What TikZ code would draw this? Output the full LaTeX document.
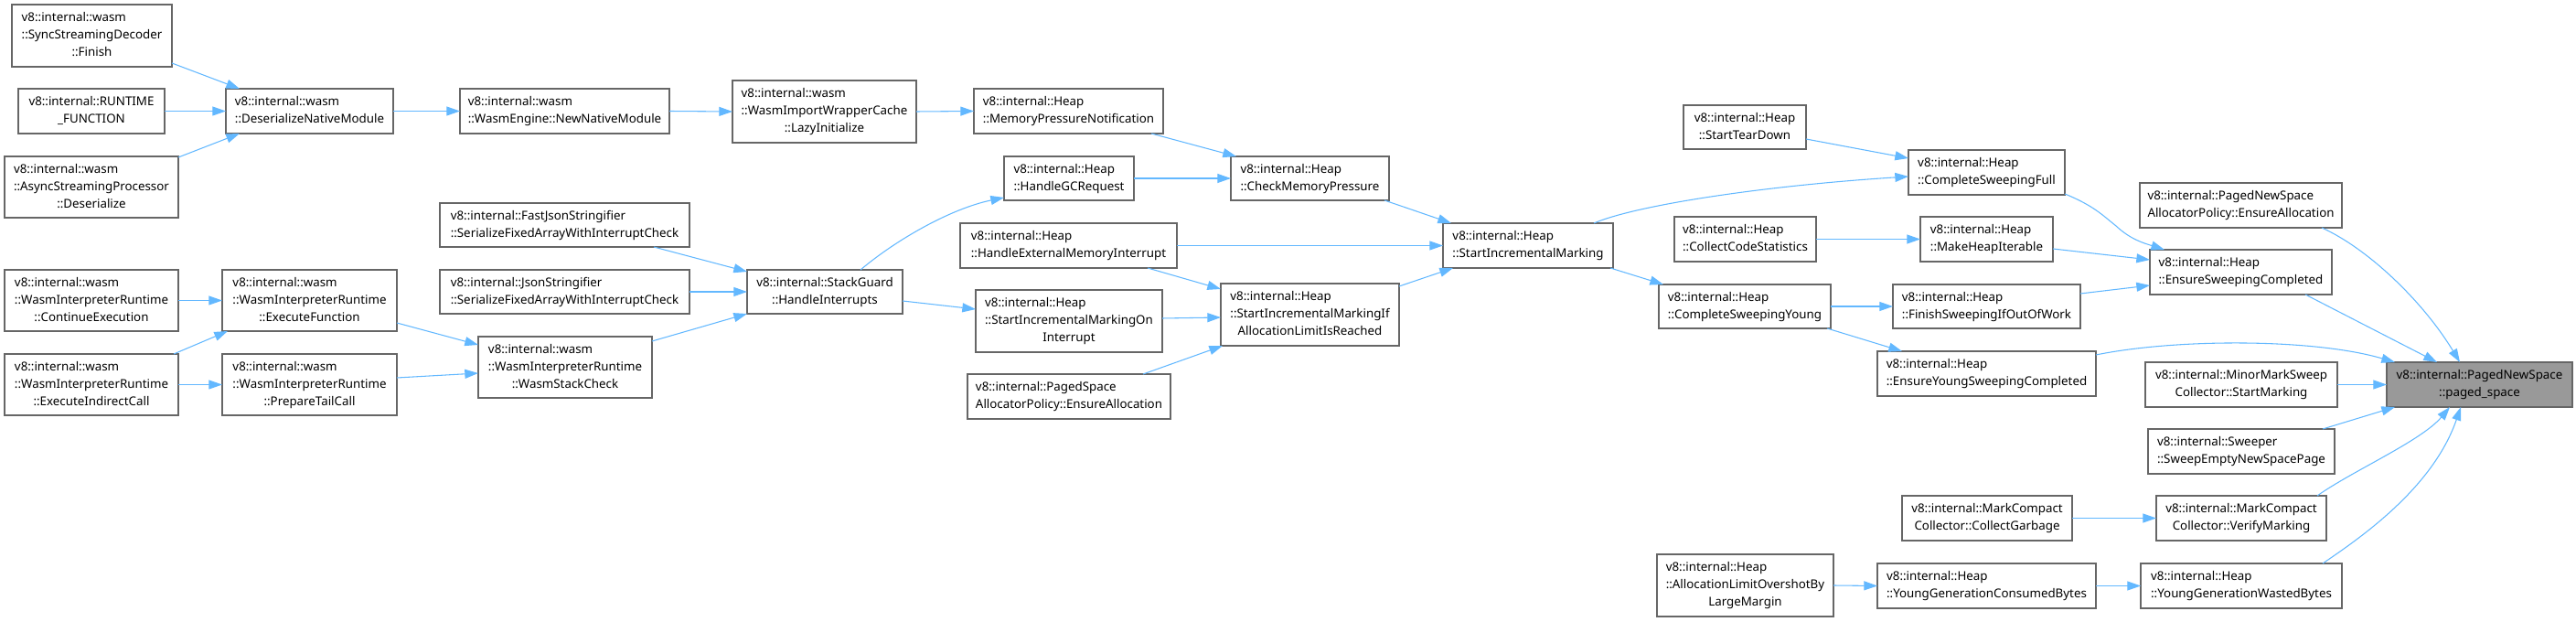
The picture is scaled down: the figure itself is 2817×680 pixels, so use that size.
\documentclass[tikz,border=0pt]{standalone}
\usepackage{fontspec}
\setmainfont{Noto Sans}
\usetikzlibrary{arrows.meta,calc}
\definecolor{edgec}{HTML}{63B8FF}
\definecolor{boxc}{HTML}{666666}
\definecolor{psfill}{HTML}{999999}
\newcommand\ltwo[2]{\begin{tabular}{@{}l@{}}#1\\\multicolumn{1}{@{}c@{}}{#2}\end{tabular}}
\newcommand\lthree[3]{\begin{tabular}{@{}l@{}}#1\\#2\\\multicolumn{1}{@{}c@{}}{#3}\end{tabular}}
\newcommand\gnode[7][]{\node[gbox,#1,minimum width={(#5-#3)*0.75pt},minimum height={(#6-#4)*0.75pt}] (#2) at ({(#3+#5)/2},{(#4+#6)/2}) {#7};}
\tikzset{
  gbox/.style={draw=boxc,line width=0.8pt,fill=white,inner sep=0pt,outer sep=0pt,font=\fontsize{10pt}{14.25pt}\selectfont},
  edge/.style={draw=edgec,line width=0.8pt,-{Triangle[length=11pt,width=7.5pt]}}
}
\begin{document}
\begin{tikzpicture}[x=0.75pt,y=-0.75pt]
\useasboundingbox (0,0) rectangle (2817,680);
% nodes
\gnode{sync}{13}{5}{188}{73}{\lthree{v8::internal::wasm}{::SyncStreamingDecoder}{::Finish}}
\gnode{runtime}{20}{97}{180}{146}{\ltwo{v8::internal::RUNTIME}{\_FUNCTION}}
\gnode{async}{5}{171}{195}{238}{\lthree{v8::internal::wasm}{::AsyncStreamingProcessor}{::Deserialize}}
\gnode{dnm}{247}{97}{430}{146}{\ltwo{v8::internal::wasm}{::DeserializeNativeModule}}
\gnode{nnm}{503}{97}{732}{146}{\ltwo{v8::internal::wasm}{::WasmEngine::NewNativeModule}}
\gnode{lazy}{801}{88}{1002}{156}{\lthree{v8::internal::wasm}{::WasmImportWrapperCache}{::LazyInitialize}}
\gnode{mpn}{1065}{97}{1272}{146}{\ltwo{v8::internal::Heap}{::MemoryPressureNotification}}
\gnode{hgc}{1098}{171}{1240}{219}{\ltwo{v8::internal::Heap}{::HandleGCRequest}}
\gnode{cmp}{1346}{171}{1519}{219}{\ltwo{v8::internal::Heap}{::CheckMemoryPressure}}
\gnode{fjs}{481}{222}{754}{270}{\ltwo{v8::internal::FastJsonStringifier}{::SerializeFixedArrayWithInterruptCheck}}
\gnode{js}{481}{295}{754}{343}{\ltwo{v8::internal::JsonStringifier}{::SerializeFixedArrayWithInterruptCheck}}
\gnode{hi}{817}{295}{987}{343}{\ltwo{v8::internal::StackGuard}{::HandleInterrupts}}
\gnode{cont}{5}{295}{195}{362}{\lthree{v8::internal::wasm}{::WasmInterpreterRuntime}{::ContinueExecution}}
\gnode{exf}{243}{295}{434}{362}{\lthree{v8::internal::wasm}{::WasmInterpreterRuntime}{::ExecuteFunction}}
\gnode{eic}{5}{387}{195}{454}{\lthree{v8::internal::wasm}{::WasmInterpreterRuntime}{::ExecuteIndirectCall}}
\gnode{ptc}{243}{387}{434}{454}{\lthree{v8::internal::wasm}{::WasmInterpreterRuntime}{::PrepareTailCall}}
\gnode{wsc}{523}{368}{713}{435}{\lthree{v8::internal::wasm}{::WasmInterpreterRuntime}{::WasmStackCheck}}
\gnode{hemi}{1050}{244}{1287}{293}{\ltwo{v8::internal::Heap}{::HandleExternalMemoryInterrupt}}
\gnode{simoi}{1067}{317}{1271}{385}{\lthree{v8::internal::Heap}{::StartIncrementalMarkingOn}{Interrupt}}
\gnode{simif}{1335}{310}{1530}{378}{\lthree{v8::internal::Heap}{::StartIncrementalMarkingIf}{AllocationLimitIsReached}}
\gnode{psap}{1058}{409}{1280}{458}{\ltwo{v8::internal::PagedSpace}{AllocatorPolicy::EnsureAllocation}}
\gnode{sim}{1578}{244}{1764}{293}{\ltwo{v8::internal::Heap}{::StartIncrementalMarking}}
\gnode{std}{1841}{115}{1975}{163}{\ltwo{v8::internal::Heap}{::StartTearDown}}
\gnode{csf}{2087}{164}{2258}{213}{\ltwo{v8::internal::Heap}{::CompleteSweepingFull}}
\gnode{ccs}{1831}{237}{1986}{286}{\ltwo{v8::internal::Heap}{::CollectCodeStatistics}}
\gnode{mhi}{2100}{237}{2245}{286}{\ltwo{v8::internal::Heap}{::MakeHeapIterable}}
\gnode{csy}{1814}{311}{2002}{359}{\ltwo{v8::internal::Heap}{::CompleteSweepingYoung}}
\gnode{fsi}{2070}{311}{2275}{359}{\ltwo{v8::internal::Heap}{::FinishSweepingIfOutOfWork}}
\gnode{eysc}{2053}{384}{2292}{433}{\ltwo{v8::internal::Heap}{::EnsureYoungSweepingCompleted}}
\gnode{pnsap}{2340}{200}{2561}{249}{\ltwo{v8::internal::PagedNewSpace}{AllocatorPolicy::EnsureAllocation}}
\gnode{esc}{2351}{273}{2550}{322}{\ltwo{v8::internal::Heap}{::EnsureSweepingCompleted}}
\gnode[fill=psfill]{ps}{2610}{396}{2813}{445}{\ltwo{v8::internal::PagedNewSpace}{::paged\_space}}
\gnode{mms}{2346}{396}{2556}{445}{\ltwo{v8::internal::MinorMarkSweep}{Collector::StartMarking}}
\gnode{sweep}{2349}{469}{2553}{518}{\ltwo{v8::internal::Sweeper}{::SweepEmptyNewSpacePage}}
\gnode{mcg}{2080}{542}{2266}{591}{\ltwo{v8::internal::MarkCompact}{Collector::CollectGarbage}}
\gnode{mvm}{2358}{542}{2544}{591}{\ltwo{v8::internal::MarkCompact}{Collector::VerifyMarking}}
\gnode{alo}{1812}{606}{2005}{674}{\lthree{v8::internal::Heap}{::AllocationLimitOvershotBy}{LargeMargin}}
\gnode{ygc}{2053}{616}{2292}{665}{\ltwo{v8::internal::Heap}{::YoungGenerationConsumedBytes}}
\gnode{ygw}{2341}{616}{2561}{665}{\ltwo{v8::internal::Heap}{::YoungGenerationWastedBytes}}
% edges
\draw[edge] ($(sync.north west)+(175,64)$) -- ($(dnm.north west)+(15,0)$);
\draw[edge] (runtime.east) -- (dnm.west);
\draw[edge] ($(async.north west)+(190,1)$) -- ($(dnm.south west)+(15,0)$);
\draw[edge] (dnm.east) -- (nnm.west);
\draw[edge] (nnm.east) -- (lazy.west);
\draw[edge] (lazy.east) -- (mpn.west);
\draw[edge] ($(mpn.north west)+(194,49)$) -- ($(cmp.north west)+(6,0)$);
\draw[edge] (hgc.east) -- (cmp.west);
\draw[edge] ($(cmp.north west)+(168,48)$) -- ($(sim.north west)+(9,0)$);
\draw[edge] ($(hi.north west)+(124,0)$) .. controls (980,262) and (1040,228) .. ($(hgc.north west)+(0,45)$);
\draw[edge] ($(hi.north west)+(170,34)$) -- ($(simoi.north west)+(0,21)$);
\draw[edge] ($(fjs.north west)+(234,48)$) -- ($(hi.north west)+(0,2)$);
\draw[edge] (js.east) -- (hi.west);
\draw[edge] ($(wsc.north west)+(190,5)$) -- ($(hi.north west)+(0,48)$);
\draw[edge] ($(exf.north west)+(191,58)$) -- ($(wsc.north west)+(0,9)$);
\draw[edge] ($(ptc.north west)+(191,26)$) -- ($(wsc.north west)+(0,40)$);
\draw[edge] (cont.east) -- (exf.west);
\draw[edge] ($(eic.north west)+(185,0)$) -- ($(exf.north west)+(6,67)$);
\draw[edge] (eic.east) -- (ptc.west);
\draw[edge] (hemi.east) -- (sim.west);
\draw[edge] ($(hemi.north west)+(205,49)$) -- ($(simif.north west)+(0,6)$);
\draw[edge] ($(simoi.north west)+(204,31)$) -- ($(simif.north west)+(0,37)$);
\draw[edge] ($(psap.north west)+(192,0)$) -- ($(simif.north west)+(2,68)$);
\draw[edge] ($(simif.north west)+(195,3)$) -- ($(sim.north west)+(11,49)$);
\draw[edge] ($(sim.north west)+(165,0)$) .. controls (1790,224) and (1930,203) .. ($(csf.north west)+(0,29)$);
\draw[edge] ($(sim.north west)+(183,49)$) -- ($(csy.north west)+(5,0)$);
\draw[edge] ($(std.north west)+(134,37)$) -- ($(csf.north west)+(0,9)$);
\draw[edge] (ccs.east) -- (mhi.west);
\draw[edge] (csy.east) -- (fsi.west);
\draw[edge] ($(csy.north west)+(184,48)$) -- ($(eysc.north west)+(27,0)$);
\draw[edge] ($(csf.north west)+(171,48)$) .. controls (2290,225) and (2300,236) .. (2314,247) .. controls (2330,262) and (2345,266) .. ($(esc.north west)+(16,0)$);
\draw[edge] ($(mhi.north west)+(145,35)$) -- ($(esc.north west)+(0,11)$);
\draw[edge] ($(fsi.north west)+(205,10)$) -- ($(esc.north west)+(0,39)$);
\draw[edge] ($(esc.north west)+(170,49)$) -- ($(ps.north west)+(55,0)$);
\draw[edge] ($(pnsap.north west)+(199,49)$) .. controls (2590,272) and (2650,330) .. ($(ps.north west)+(80,0)$);
\draw[edge] ($(eysc.north west)+(239,4)$) .. controls (2380,370) and (2530,370) .. ($(ps.north west)+(9,0)$);
\draw[edge] (mms.east) -- (ps.west);
\draw[edge] ($(sweep.north west)+(191,0)$) -- ($(ps.north west)+(9,49)$);
\draw[edge] ($(mvm.north west)+(176,0)$) .. controls (2572,515) and (2648,482) .. ($(ps.north west)+(69,49)$);
\draw[edge] ($(ygw.north west)+(199,0)$) .. controls (2578,590) and (2660,535) .. ($(ps.north west)+(81,49)$);
\draw[edge] (mcg.east) -- (mvm.west);
\draw[edge] (alo.east) -- (ygc.west);
\draw[edge] (ygc.east) -- (ygw.west);
\end{tikzpicture}
\end{document}
